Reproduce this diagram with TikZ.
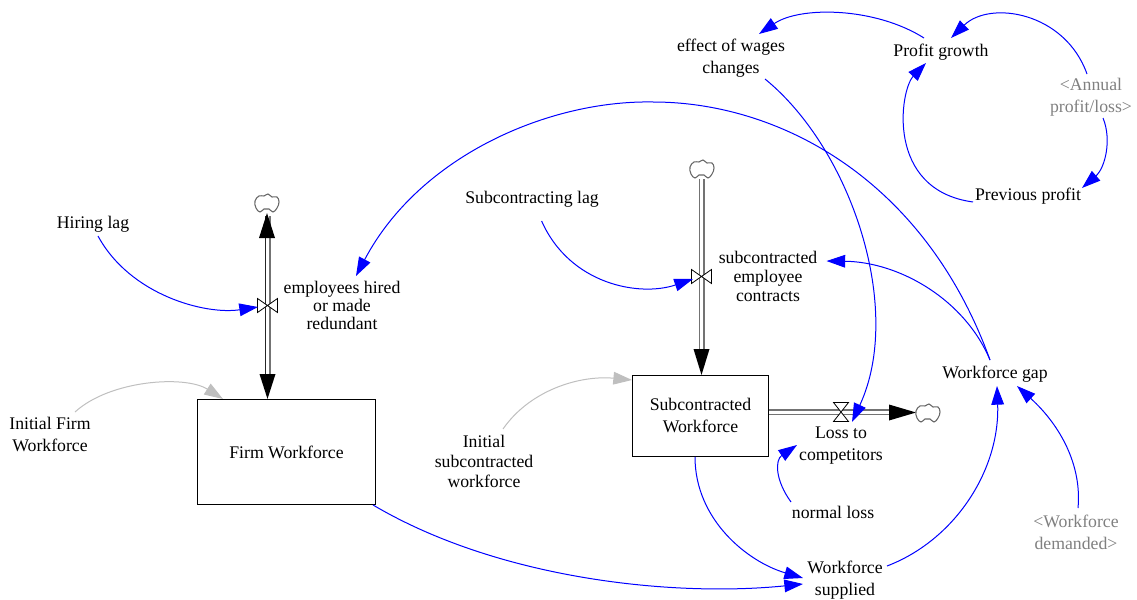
\documentclass[tikz,border=0pt]{standalone}
\usepackage{fontspec}
\setmainfont{Liberation Serif}
\usetikzlibrary{arrows.meta,calc}
\tikzset{
  x=0.75pt,y=-0.75pt,
  lbl/.style={inner sep=0pt,align=center,font=\fontsize{13.3}{#1}\selectfont},
  lbl/.default=16.5pt,
  shadow/.style={lbl=16.5pt,text=black!50},
  stock/.style={draw=black,line width=0.7pt,inner sep=0pt,anchor=north west,font=\fontsize{13.3}{16.5pt}\selectfont,align=center},
  dot/.style={inner sep=0pt,minimum size=0pt},
  link/.style={draw=blue,line width=0.75pt,-{Triangle[length=14pt,width=9.5pt,fill=blue]}},
  glink/.style={draw=black!25,line width=0.75pt,-{Triangle[length=14pt,width=9.5pt,fill=black!25]}},
  pipedark/.style={draw=black!85,line width=0.9pt},
  pipegray/.style={draw=black!55,line width=1.2pt},
  headb/.style={fill=black,draw=none},
  valvedraw/.style={draw=black,fill=white,line width=0.6pt},
  clouddraw/.style={draw=black!60,fill=white,line width=0.8pt},
}
\newcommand{\cloudat}[1]{\draw[clouddraw,shift={(#1)}] plot[smooth cycle,tension=0.7] coordinates{(-12,-3)(-8,-8)(-3,-8)(1,-10)(5,-7)(10,-7)(12,-2)(10,4)(6,8)(2,5)(-3,5)(-7,8)(-11,4)};}
\begin{document}
\begin{tikzpicture}
\useasboundingbox (0,0) rectangle (1137,599);
% stocks
\node[stock,minimum width=133.5pt,minimum height=78.75pt] (firm) at (197,399) {Firm Workforce};
\node[stock,minimum width=102pt,minimum height=60.75pt] (sub) at (632,375) {Subcontracted\\Workforce};
% helpers
\node[dot] (cloudA) at (267,204) {};
\node[dot] (cloudB) at (702,170) {};
\node[dot] (cloudC) at (928,414) {};
\node[dot] (valveA) at (267.5,305.5) {};
\node[dot] (valveB) at (701.5,276.5) {};
\node[dot] (valveC) at (841,412) {};
\coordinate (arcTop) at (653,102);
% labels
\node[lbl] (hiring) at (93,224.5) {Hiring lag};
\node[lbl=13.5pt] (emp) at (342,305.5) {employees hired\\or made\\redundant};
\node[lbl] (initfirm) at (50,434.5) {Initial Firm\\Workforce};
\node[lbl] (sublag) at (532,199) {Subcontracting lag};
\node[lbl=14.25pt] (contracts) at (768,276.5) {subcontracted\\employee\\contracts};
\node[lbl=15pt] (initsub) at (484,461) {Initial\\subcontracted\\workforce};
\node[lbl] (loss) at (841,445.5) {Loss to\\competitors};
\node[lbl] (normal) at (833,512.5) {normal loss};
\node[lbl] (supplied) at (845,580.5) {Workforce\\supplied};
\node[lbl] (gap) at (995,374.5) {Workforce gap};
\node[shadow] (demanded) at (1076,532) {<Workforce\\demanded>};
\node[lbl] (wages) at (731,58) {effect of wages\\changes};
\node[lbl] (growth) at (941,52.5) {Profit growth};
\node[shadow] (annual) at (1091,97.5) {<Annual\\profit/loss>};
\node[lbl] (prev) at (1028,196.5) {Previous profit};
% pipes
\draw[pipedark] ($(cloudA)+(-1.5,12)$) -- ($(firm.north west)+(68.5,-10)$);
\draw[pipegray] ($(cloudA)+(3,12)$) -- ($(firm.north west)+(73,-10)$);
\draw[pipegray] ($(cloudB)+(-2.5,9)$) -- ($(sub.north west)+(67.5,-10)$);
\draw[pipegray] ($(cloudB)+(2,9)$) -- ($(sub.north west)+(72,-10)$);
\draw[pipegray] ($(sub.north east)+(0,35)$) -- ($(cloudC)+(-25,-4)$);
\draw[pipegray] ($(sub.north east)+(0,39.5)$) -- ($(cloudC)+(-25,0.5)$);
% flow heads
\fill[headb] ($(cloudA)+(0,9)$) -- ($(cloudA)+(-8,34)$) -- ($(cloudA)+(8,34)$) -- cycle;
\fill[headb] ($(firm.north west)+(70.5,0)$) -- ($(firm.north west)+(62.5,-25)$) -- ($(firm.north west)+(78.5,-25)$) -- cycle;
\fill[headb] ($(sub.north west)+(69.5,0)$) -- ($(sub.north west)+(61.5,-26)$) -- ($(sub.north west)+(77.5,-26)$) -- cycle;
\fill[headb] ($(cloudC)+(-12,-1.5)$) -- ($(cloudC)+(-39,-9.5)$) -- ($(cloudC)+(-39,6.5)$) -- cycle;
% clouds
\cloudat{cloudA}\cloudat{cloudB}\cloudat{cloudC}
% valves
\draw[valvedraw,shift={(valveA)}] (-10,-7) -- (10,7) -- (10,-7) -- (-10,7) -- cycle;
\draw[valvedraw,shift={(valveB)}] (-10,-7) -- (10,7) -- (10,-7) -- (-10,7) -- cycle;
\draw[valvedraw,shift={(valveC)}] (-7.5,-9.5) -- (7.5,-9.5) -- (-7.5,9.5) -- (7.5,9.5) -- cycle;
% links
\draw[link] (98,236) .. controls (130,295) and (205,315) .. ($(valveA)+(-9.5,1.5)$);
\draw[glink] ($(initfirm)+(25,-22.5)$) .. controls (110,380) and (185,375) .. ($(firm.north west)+(26,0)$);
\draw[link] ($(gap)+(-5,-14.5)$) .. controls (925,180) and (780,102) .. (arcTop) .. controls (550,100) and (420,155) .. ($(emp)+(14,-29.5)$);
\draw[link] ($(gap)+(-5,-14.5)$) .. controls (965,300) and (900,262) .. ($(contracts)+(58.5,-15.5)$);
\draw[link] ($(sublag)+(9.6,22)$) .. controls (570,285) and (640,297) .. ($(valveB)+(-8.5,2.5)$);
\draw[glink] ($(initsub)+(19,-32)$) .. controls (530,390) and (580,375) .. ($(sub.north west)+(0,5)$);
\draw[link] ($(wages)+(34,21)$) .. controls (852,150) and (904,310) .. ($(loss)+(11,-23.5)$);
\draw[link] ($(growth)+(-17,-14.5)$) .. controls (875,7) and (800,6) .. ($(wages)+(28,-24)$);
\draw[link] ($(annual)+(-4,-23.5)$) .. controls (1065,12) and (990,0) .. ($(growth)+(10,-14.5)$);
\draw[link] ($(annual)+(12,20.5)$) .. controls (1112,140) and (1105,168) .. ($(prev)+(54,-8.5)$);
\draw[link] ($(prev)+(-55,5.5)$) .. controls (885,190) and (900,90) .. ($(growth)+(-15,10.5)$);
\draw[link] ($(firm.south east)+(-3,0)$) .. controls (500,580) and (675,597) .. ($(supplied)+(-42,3.5)$);
\draw[link] ($(sub.south west)+(63,0)$) .. controls (695,520) and (748,562) .. ($(supplied)+(-42,-2.5)$);
\draw[link] ($(supplied)+(42,-14.5)$) .. controls (955,540) and (1000,470) .. ($(gap)+(2,11.5)$);
\draw[link] ($(normal)+(-42,-10.5)$) .. controls (775,480) and (775,460) .. ($(loss)+(-44,-0.5)$);
\draw[link] ($(demanded)+(2,-24)$) .. controls (1082,465) and (1060,425) .. ($(gap)+(22,11.5)$);
\end{tikzpicture}
\end{document}
